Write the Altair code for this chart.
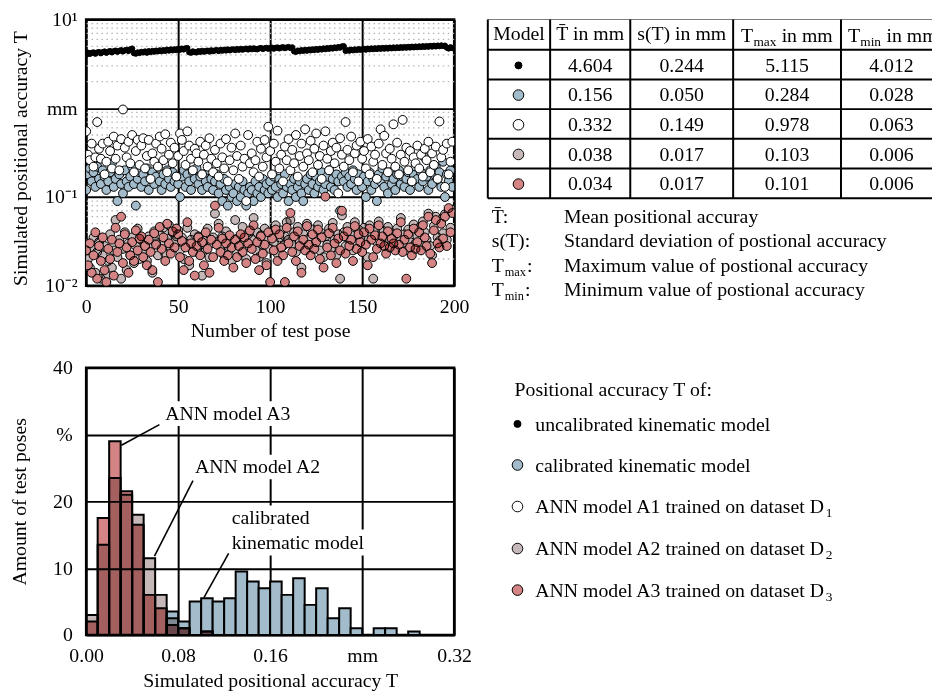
import altair as alt
import pandas as pd

FONT = "Liberation Serif"
C_BLUE = "#a3bccb"
C_GRAY = "#c6b8b8"
C_RED = "#d48484"

# ---------------- scatter: positional accuracy per test pose ----------------
# uncalibrated kinematic model, in mm
uncalibrated_mm = [
    4.01, 4.24, 4.10, 4.22, 4.27, 4.12, 4.26, 4.31, 4.17, 4.30,
    4.37, 4.22, 4.35, 4.42, 4.27, 4.40, 4.47, 4.33, 4.45, 4.52,
    4.37, 4.50, 4.57, 4.42, 4.63, 4.72, 4.18, 4.13, 4.27, 4.20,
    4.33, 4.26, 4.37, 4.23, 4.41, 4.30, 4.43, 4.34, 4.47, 4.38,
    4.51, 4.40, 4.53, 4.44, 4.58, 4.47, 4.61, 4.50, 4.63, 4.53,
    4.68, 4.57, 4.71, 4.60, 4.75, 4.78, 4.28, 4.23, 4.38, 4.30,
    4.26, 4.41, 4.33, 4.45, 4.34, 4.43, 4.47, 4.36, 4.51, 4.40,
    4.49, 4.53, 4.42, 4.55, 4.46, 4.58, 4.48, 4.61, 4.50, 4.59,
    4.63, 4.53, 4.65, 4.56, 4.68, 4.58, 4.66, 4.71, 4.60, 4.73,
    4.63, 4.75, 4.66, 4.62, 4.73, 4.78, 4.66, 4.75, 4.81, 4.68,
    4.79, 4.83, 4.70, 4.81, 4.85, 4.73, 4.83, 4.88, 4.76, 4.85,
    4.91, 4.78, 4.87, 4.38, 4.33, 4.48, 4.40, 4.53, 4.44, 4.55,
    4.46, 4.59, 4.50, 4.63, 4.53, 4.66, 4.56, 4.69, 4.60, 4.73,
    4.63, 4.77, 4.68, 4.81, 4.72, 4.85, 4.76, 4.91, 4.83, 4.98,
    5.02, 4.43, 4.53, 4.46, 4.58, 4.50, 4.61, 4.53, 4.65, 4.56,
    4.63, 4.68, 4.58, 4.71, 4.62, 4.73, 4.64, 4.75, 4.66, 4.78,
    4.68, 4.79, 4.70, 4.81, 4.72, 4.83, 4.74, 4.85, 4.76, 4.87,
    4.78, 4.89, 4.80, 4.91, 4.82, 4.93, 4.84, 4.95, 4.86, 4.97,
    4.88, 4.99, 4.90, 5.01, 4.92, 5.03, 4.94, 5.05, 4.96, 5.08,
    4.98, 5.10, 5.01, 5.12, 5.04, 5.09, 4.83, 4.72, 4.88, 4.77,
]
# calibrated kinematic model, in 0.01 mm
calibrated_cmm = [
    12, 18, 21, 15, 19, 13, 22, 16, 14, 20,
    17, 12, 15, 19, 24, 13, 16, 9, 18, 14,
    11, 20, 15, 13, 17, 22, 14, 8, 16, 19,
    13, 18, 15, 21, 12, 16, 19, 14, 17, 22,
    15, 12, 18, 14, 20, 16, 13, 19, 15, 17,
    14, 10, 17, 20, 13, 18, 15, 12, 19, 16,
    21, 14, 17, 12, 18, 15, 13, 20, 16, 12,
    15, 18, 11, 14, 9, 16, 12, 8, 13, 10,
    11, 14, 9, 13, 10, 15, 12, 8, 11, 13,
    12, 9, 15, 11, 13, 10, 16, 12, 14, 11,
    15, 12, 17, 13, 10, 16, 14, 11, 18, 13,
    9, 14, 12, 16, 10, 13, 15, 11, 9, 14,
    16, 12, 18, 14, 11, 17, 13, 15, 19, 12,
    14, 17, 20, 13, 16, 12, 18, 15, 7, 17,
    15, 19, 13, 17, 14, 20, 16, 12, 18, 15,
    13, 17, 10, 15, 19, 12, 16, 14, 9, 18,
    15, 21, 13, 17, 11, 19, 14, 16, 12, 18,
    20, 14, 17, 13, 16, 19, 12, 15, 18, 22,
    16, 13, 19, 15, 28, 17, 12, 20, 14, 18,
    22, 16, 19, 13, 25, 10, 18, 15, 20, 13,
]
# ANN model A1, in 0.01 mm
ann_a1_cmm = [
    55, 30, 26, 40, 22, 28, 70, 35, 27, 40,
    18, 25, 42, 33, 21, 48, 27, 38, 20, 45,
    97, 36, 28, 42, 24, 50, 19, 33, 44, 23,
    38, 46, 21, 29, 44, 16, 31, 25, 40, 22,
    48, 35, 26, 51, 19, 30, 41, 24, 36, 17,
    29, 52, 44, 33, 23, 55, 38, 27, 20, 35,
    31, 25, 42, 18, 30, 38, 22, 46, 27, 19,
    34, 24, 17, 40, 28, 21, 45, 15, 26, 36,
    20, 52, 29, 16, 38, 22, 27, 9, 50, 24,
    31, 19, 26, 42, 17, 35, 22, 44, 28, 62,
    33, 18, 40, 25, 56, 21, 30, 15, 37, 26,
    45, 20, 34, 24, 50, 17, 29, 40, 22, 58,
    31, 26, 43, 19, 35, 52, 23, 29, 16, 38,
    55, 27, 20, 33, 41, 24, 36, 11, 46, 30,
    22, 70, 34, 26, 48, 19, 31, 38, 15, 42,
    27, 33, 21, 45, 18, 37, 25, 30, 16, 40,
    58, 23, 49, 31, 19, 35, 27, 66, 22, 41,
    18, 30, 74, 25, 36, 20, 33, 15, 28, 24,
    38, 21, 30, 17, 35, 26, 42, 19, 31, 23,
    37, 16, 71, 28, 34, 13, 40, 18, 25, 42,
]
# ANN model A2, in 0.001 mm
ann_a2_um = [
    30, 20, 16, 27, 35, 14, 24, 31, 12, 22,
    28, 13, 19, 38, 16, 25, 55, 21, 33, 12,
    26, 40, 15, 30, 22, 35, 18, 28, 44, 20,
    33, 24, 29, 19, 36, 27, 14, 41, 30, 22,
    38, 29, 45, 23, 34, 48, 26, 40, 31, 36,
    42, 25, 35, 20, 30, 45, 17, 33, 26, 38,
    24, 36, 29, 13, 32, 26, 44, 21, 30, 35,
    65, 31, 50, 27, 36, 22, 41, 28, 34, 19,
    30, 55, 24, 35, 29, 46, 32, 20, 38, 27,
    33, 58, 25, 40, 21, 37, 29, 44, 18, 34,
    26, 39, 31, 48, 23, 35, 42, 28, 36, 52,
    33, 55, 29, 40, 24, 46, 31, 16, 38, 27,
    50, 34, 27, 43, 30, 37, 48, 25, 39, 21,
    36, 29, 44, 26, 51, 33, 22, 38, 12, 62,
    40, 28, 46, 33, 37, 25, 52, 30, 43, 35,
    29, 45, 34, 21, 48, 37, 12, 41, 31, 53,
    35, 42, 33, 27, 46, 32, 39, 36, 28, 44,
    34, 58, 30, 38, 25, 43, 31, 27, 49, 30,
    36, 45, 30, 53, 40, 33, 65, 28, 22, 47,
    60, 35, 32, 56, 39, 64, 33, 70, 45, 72,
]
# ANN model A3, in 0.001 mm
ann_a3_um = [
    25, 17, 30, 14, 22, 40, 12, 28, 19, 35,
    15, 11, 26, 20, 33, 13, 45, 24, 30, 60,
    18, 38, 27, 14, 22, 31, 19, 42, 25, 34,
    36, 21, 28, 17, 33, 24, 15, 39, 29, 11,
    46, 26, 35, 19, 50, 30, 23, 41, 27, 44,
    38, 21, 32, 15, 27, 52, 19, 30, 24, 13,
    28, 35, 22, 31, 17, 40, 26, 14, 33, 21,
    80, 29, 45, 24, 34, 19, 30, 22, 37, 27,
    16, 33, 21, 28, 38, 24, 35, 18, 30, 42,
    26, 48, 20, 31, 15, 36, 23, 29, 17, 40,
    11, 34, 25, 43, 19, 38, 27, 22, 11, 45,
    30, 66, 24, 36, 19, 41, 28, 14, 33, 25,
    47, 29, 22, 38, 26, 31, 43, 20, 35, 16,
    101, 27, 39, 22, 45, 30, 18, 34, 25, 70,
    36, 23, 41, 28, 33, 19, 47, 26, 38, 31,
    24, 40, 29, 17, 44, 33, 21, 37, 26, 48,
    30, 36, 28, 23, 41, 27, 34, 30, 25, 39,
    29, 52, 24, 33, 12, 38, 27, 22, 44, 26,
    31, 40, 25, 48, 35, 28, 60, 23, 18, 42,
    55, 30, 27, 50, 34, 60, 28, 75, 40, 66,
]
minor_grid_mm = [0.02, 0.03, 0.04, 0.05, 0.06, 0.07, 0.08, 0.09,
                 0.2, 0.3, 0.4, 0.5, 0.6, 0.7, 0.8, 0.9,
                 2, 3, 4, 5, 6, 7, 8, 9]

# ---------------- histogram: share of test poses per 0.01 mm bin ----------------
bin_start = [0.00, 0.01, 0.02, 0.03, 0.04, 0.05, 0.06, 0.07, 0.08, 0.09, 0.10,
             0.11, 0.12, 0.13, 0.14, 0.15, 0.16, 0.17, 0.18, 0.19, 0.20, 0.21,
             0.22, 0.23, 0.24, 0.25, 0.26, 0.27, 0.28, 0.29, 0.30, 0.31]
bin_end = [0.01, 0.02, 0.03, 0.04, 0.05, 0.06, 0.07, 0.08, 0.09, 0.10, 0.11,
           0.12, 0.13, 0.14, 0.15, 0.16, 0.17, 0.18, 0.19, 0.20, 0.21, 0.22,
           0.23, 0.24, 0.25, 0.26, 0.27, 0.28, 0.29, 0.30, 0.31, 0.32]
hist_calibrated = [0, 0, 0, 0, 0, 0, 0, 3.5, 2, 5, 5.5, 5, 5.5, 9.5, 8, 7,
                   8, 6, 8.5, 4.5, 7, 2.5, 4, 1, 0, 1, 1, 0, 0.5, 0, 0, 0]
hist_a2 = [3, 13.5, 23.5, 21, 18, 11.5, 6, 2.5, 1, 0, 0.5, 0, 0, 0, 0, 0,
           0, 0, 0, 0, 0, 0, 0, 0, 0, 0, 0, 0, 0, 0, 0, 0]
hist_a3 = [2, 17.5, 29, 21.5, 16.5, 6, 4, 1.5, 1, 0, 0.5, 0, 0, 0, 0, 0,
           0, 0, 0, 0, 0, 0, 0, 0, 0, 0, 0, 0, 0, 0, 0, 0]

note_text = ["ANN model A3", "ANN model A2", "calibrated", "kinematic model"]
note_x = [0.0688, 0.0946, 0.1265, 0.1265]
note_y = [33.1, 25.1, 17.5, 13.8]
note_box_x1 = [0.181, 0.207, 0.196, 0.243]
note_box_y0 = [31.3, 23.3, 15.8, 11.9]
note_box_y1 = [35.0, 27.0, 19.4, 15.8]
leader_x0 = [0.0307, 0.0594, 0.1024]
leader_y0 = [28.4, 11.8, 5.6]
leader_x1 = [0.0637, 0.0929, 0.1239]
leader_y1 = [31.5, 23.1, 12.2]

# ---------------- table and legend ----------------
model_fill = ["black", C_BLUE, "white", C_GRAY, C_RED]
model_size = [50, 115, 115, 115, 115]
mean_T = ["4.604", "0.156", "0.332", "0.038", "0.034"]
std_T = ["0.244", "0.050", "0.149", "0.017", "0.017"]
max_T = ["5.115", "0.284", "0.978", "0.103", "0.101"]
min_T = ["4.012", "0.028", "0.063", "0.006", "0.006"]
header_center = ["Model", "T\u0304 in mm", "s(T) in mm"]
def_text = ["Mean positional accuray", "Standard deviation of postional accuracy",
            "Maximum value of postional accuracy", "Minimum value of postional accuracy"]
legend_title = "Positional accuracy T of:"
legend_text = ["uncalibrated kinematic model", "calibrated kinematic model",
               "ANN model A1 trained on dataset D", "ANN model A2 trained on dataset D",
               "ANN model A3 trained on dataset D"]
legend_sub = ["", "", "1", "2", "3"]

# ---------------- layout (page pixels) ----------------
PX0, PY0 = 486, 18.5       # where the right panel starts on the page
PW, PH = 452, 660
COL_EDGES = [489, 552, 633, 737, 846, 948]
ROW_EDGES = [18, 49, 79, 109, 139, 169, 199]
DEF_BASE = [224, 248.5, 273.5, 298]
LEG_TITLE_BASE = 398.5
LEG_BASE = [434, 475.5, 517.5, 560, 602]
LEG_MARK_X, LEG_TEXT_X, LEG_SUB_X = 519, 537, 830.5

# ======================= scatter chart =======================
W1, H1 = 372, 269
xs = alt.Scale(domain=[0, 200], nice=False)
ys = alt.Scale(type="log", domain=[0.01, 10], nice=False)
sx = alt.X("pose:Q", scale=xs, axis=alt.Axis(
    values=[0, 50, 100, 150, 200], title="Number of test pose", grid=True,
    gridColor="black", gridWidth=2, ticks=False, domain=False, labelPadding=11,
    labelFlush=False, titleX=W1 / 2, titleY=45.7, titleBaseline="middle",
    titleAlign="center"))
sy = alt.Y("T:Q", scale=ys, axis=alt.Axis(
    values=[0.01, 0.1, 1, 10], grid=True, gridColor="black", gridWidth=2,
    ticks=False, domain=False, labelPadding=9, labelFlush=False, labelOverlap=False,
    labelExpr="datum.value > 5 ? '10¹' : datum.value > 0.5 ? 'mm' : datum.value > 0.05 ? '10⁻¹' : '10⁻²'",
    title="Simulated positional accuracy T", titleX=-66, titleY=140, titleAngle=270,
    titleBaseline="middle", titleAlign="center"))


def pose_frame(values, unit):
    return pd.DataFrame({"pose": list(range(len(values))), "T": [v * unit for v in values]})


minor = alt.Chart(pd.DataFrame({"T": minor_grid_mm})).mark_rule(
    color="#b4b4b4", strokeWidth=1.3, strokeDash=[1.5, 3.5]).encode(y=sy)


def scatter_layer(df, fill, size, blend=None):
    kw = dict(fill=fill, stroke="black", strokeWidth=1, size=size, opacity=1, clip=True)
    if blend:
        kw["blend"] = blend
    return alt.Chart(df).mark_circle(**kw).encode(x=sx, y=sy)


scatter = alt.layer(
    minor,
    scatter_layer(pose_frame(calibrated_cmm, 0.01), C_BLUE, 80),
    scatter_layer(pose_frame(ann_a1_cmm, 0.01), "white", 80),
    scatter_layer(pose_frame(ann_a2_um, 0.001), C_GRAY, 80, "multiply"),
    scatter_layer(pose_frame(ann_a3_um, 0.001), C_RED, 80, "multiply"),
    alt.Chart(pose_frame(uncalibrated_mm, 1)).mark_circle(
        fill="black", stroke="black", strokeWidth=1, size=28, opacity=1, clip=True
    ).encode(x=sx, y=sy),
).properties(width=W1, height=H1, view=alt.ViewBackground(stroke="black", strokeWidth=2.5))

# ======================= histogram =======================
W2, H2 = 372, 270
hxs = alt.Scale(domain=[0, 0.32], nice=False)
hys = alt.Scale(domain=[0, 40], nice=False)
hx = alt.X("x0:Q", scale=hxs, axis=alt.Axis(
    values=[0, 0.08, 0.16, 0.24, 0.32], grid=True, gridColor="black", gridWidth=2,
    ticks=False, domain=False, labelPadding=11, labelFlush=False, labelOverlap=False,
    labelExpr="datum.value > 0.2 && datum.value < 0.3 ? 'mm' : format(datum.value, '.2f')",
    title="Simulated positional accuracy T", titleX=W2 / 2, titleY=45.7,
    titleBaseline="middle", titleAlign="center"))
hy = alt.Y("pct:Q", scale=hys, axis=alt.Axis(
    values=[0, 10, 20, 30, 40], grid=True, gridColor="black", gridWidth=2,
    ticks=False, domain=False, labelPadding=14, labelFlush=False, labelOverlap=False,
    labelExpr="datum.value == 30 ? '%' : datum.label",
    title="Amount of test poses", titleX=-67, titleY=135, titleAngle=270,
    titleBaseline="middle", titleAlign="center"))


def hist_frame(values):
    return pd.DataFrame({"x0": bin_start, "x1": bin_end, "pct": values})


def hist_layer(values, fill, blend=None):
    kw = dict(fill=fill, stroke="black", strokeWidth=2, opacity=1)
    if blend:
        kw["blend"] = blend
    return alt.Chart(hist_frame(values)).mark_bar(**kw).encode(
        x=hx, x2="x1:Q", y=hy, y2=alt.datum(0))


boxes = alt.Chart(pd.DataFrame({"x0": note_x, "x1": note_box_x1, "pct": note_box_y0,
                                "pct2": note_box_y1})).mark_rect(fill="white").encode(
    x=hx, x2="x1:Q", y=hy, y2="pct2:Q")
leaders = alt.Chart(pd.DataFrame({"x0": leader_x0, "pct": leader_y0, "x1": leader_x1,
                                  "pct2": leader_y1})).mark_rule(
    color="black", strokeWidth=1.6).encode(x=hx, x2="x1:Q", y=hy, y2="pct2:Q")
notes = alt.Chart(pd.DataFrame({"x0": note_x, "pct": note_y, "txt": note_text})).mark_text(
    align="left", baseline="middle", font=FONT, fontSize=20, color="black").encode(
    x=hx, y=hy, text="txt:N")

hist = alt.layer(
    hist_layer(hist_calibrated, C_BLUE),
    hist_layer(hist_a2, C_GRAY, "multiply"),
    hist_layer(hist_a3, C_RED, "multiply"),
    boxes, leaders, notes,
).properties(width=W2, height=H2, view=alt.ViewBackground(stroke="black", strokeWidth=2.5))

# ======================= right panel: table + legend =======================
pxs = alt.Scale(domain=[PX0, PX0 + PW], nice=False, zero=False)
pys = alt.Scale(domain=[PY0 + PH, PY0], nice=False, zero=False)
PX = alt.X("x:Q", scale=pxs, axis=None)
PY = alt.Y("y:Q", scale=pys, axis=None)

vlines = pd.DataFrame({"x": COL_EDGES, "y": [ROW_EDGES[0]] * len(COL_EDGES),
                       "y2": [ROW_EDGES[-1]] * len(COL_EDGES)})
hlines = pd.DataFrame({"x": [COL_EDGES[0]] * len(ROW_EDGES), "x2": [COL_EDGES[-1] + 20] * len(ROW_EDGES),
                       "y": ROW_EDGES})
vrules = alt.Chart(vlines).mark_rule(color="black", strokeWidth=2, clip=True).encode(
    x=PX, y=PY, y2="y2:Q")
hrules = alt.Chart(hlines).mark_rule(color="black", strokeWidth=2, clip=True).encode(
    x=PX, x2="x2:Q", y=PY)

col_mid = [(COL_EDGES[i] + COL_EDGES[i + 1]) / 2 for i in range(len(COL_EDGES) - 1)]
row_base = [ROW_EDGES[i] + 22 for i in range(len(ROW_EDGES) - 1)]
row_mid = [(ROW_EDGES[i] + ROW_EDGES[i + 1]) / 2 + 0.8 for i in range(len(ROW_EDGES) - 1)]

center_rows = []
for i, h in enumerate(header_center):
    center_rows.append({"x": col_mid[i], "y": row_base[0] - 1, "txt": h, "fs": 20})
for r in range(5):
    for c, col in enumerate([mean_T, std_T, max_T, min_T]):
        center_rows.append({"x": col_mid[c + 1], "y": row_base[r + 1], "txt": col[r], "fs": 20})

left_rows = [
    {"x": 745, "y": 41, "txt": "T", "fs": 20},
    {"x": 757.5, "y": 45, "txt": "max", "fs": 13.5},
    {"x": 786, "y": 41, "txt": "in mm", "fs": 20},
    {"x": 853, "y": 41, "txt": "T", "fs": 20},
    {"x": 865.5, "y": 45, "txt": "min", "fs": 13.5},
    {"x": 892, "y": 41, "txt": "in mm", "fs": 20},
    {"x": 493, "y": DEF_BASE[0], "txt": "T\u0304:", "fs": 20},
    {"x": 493, "y": DEF_BASE[1], "txt": "s(T):", "fs": 20},
    {"x": 493, "y": DEF_BASE[2], "txt": "T", "fs": 20},
    {"x": 506, "y": DEF_BASE[2] + 4, "txt": "max", "fs": 12.5},
    {"x": 528.5, "y": DEF_BASE[2], "txt": ":", "fs": 20},
    {"x": 493, "y": DEF_BASE[3], "txt": "T", "fs": 20},
    {"x": 506, "y": DEF_BASE[3] + 4, "txt": "min", "fs": 12.5},
    {"x": 526.5, "y": DEF_BASE[3], "txt": ":", "fs": 20},
    {"x": 516, "y": LEG_TITLE_BASE, "txt": legend_title, "fs": 20},
]
for i, t in enumerate(def_text):
    left_rows.append({"x": 566, "y": DEF_BASE[i], "txt": t, "fs": 20})
for i, t in enumerate(legend_text):
    left_rows.append({"x": LEG_TEXT_X, "y": LEG_BASE[i], "txt": t, "fs": 20})
    if legend_sub[i]:
        left_rows.append({"x": LEG_SUB_X, "y": LEG_BASE[i] + 4, "txt": legend_sub[i], "fs": 13.5})

markers = pd.DataFrame({
    "x": [520] * 5 + [LEG_MARK_X] * 5,
    "y": row_mid[1:] + [b - 6.8 for b in LEG_BASE],
    "fill": model_fill + model_fill,
    "sz": model_size + model_size,
})

center_txt = alt.Chart(pd.DataFrame(center_rows)).mark_text(
    align="center", baseline="alphabetic", font=FONT, color="black", clip=True).encode(
    x=PX, y=PY, text="txt:N", size=alt.Size("fs:Q", scale=None))
left_txt = alt.Chart(pd.DataFrame(left_rows)).mark_text(
    align="left", baseline="alphabetic", font=FONT, color="black", clip=True).encode(
    x=PX, y=PY, text="txt:N", size=alt.Size("fs:Q", scale=None))
marks = alt.Chart(markers).mark_circle(stroke="black", strokeWidth=1, opacity=1, clip=True).encode(
    x=PX, y=PY, fill=alt.Fill("fill:N", scale=None), size=alt.Size("sz:Q", scale=None))

panel = alt.layer(vrules, hrules, center_txt, left_txt, marks).properties(
    width=PW, height=PH, view=alt.ViewBackground(stroke=None))

left = alt.vconcat(scatter, hist, spacing=14)
chart = alt.hconcat(left, panel, spacing=12).properties(
    padding={"top": -4, "left": 0, "right": 0, "bottom": 0}).configure(
    font=FONT).configure_axis(
    labelFont=FONT, titleFont=FONT, labelFontSize=20, titleFontSize=20,
    labelColor="black", titleColor="black", titleFontWeight="normal").configure_view(stroke=None)

chart.save("out.html", embed_options={"renderer": "svg", "actions": False})
